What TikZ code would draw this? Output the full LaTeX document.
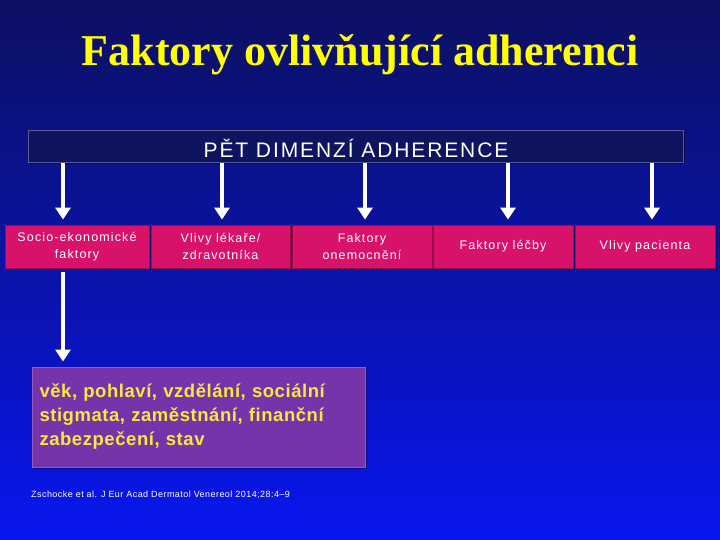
\documentclass[tikz,border=0pt]{standalone}
\usepackage{fontspec}
\setmainfont{Liberation Sans}
\newfontfamily\titlefont{Liberation Serif}
\newfontfamily\spacedfont[LetterSpace=9]{Liberation Sans}
\newfontfamily\detailfont[LetterSpace=3]{Liberation Sans}
\newfontfamily\citefont[LetterSpace=5]{Liberation Sans}
\usetikzlibrary{arrows.meta,shadows}
\definecolor{bgtop}{RGB}{12,16,96}
\definecolor{bgbot}{RGB}{8,22,240}
\definecolor{barcol}{RGB}{14,20,96}
\definecolor{pinkbox}{RGB}{216,18,106}
\definecolor{purplebox}{RGB}{118,52,170}
\definecolor{titleyellow}{RGB}{255,255,0}
\definecolor{txtyellow}{RGB}{255,230,60}
\tikzset{
  factor/.style={draw=pinkbox!70!black, line width=0.8pt, fill=pinkbox, text=white,
    minimum height=43pt, inner sep=1pt, align=center, font=\spacedfont\fontsize{12.5pt}{17pt}\selectfont,
    drop shadow={shadow xshift=1.5pt, shadow yshift=-1.5pt, fill=black, opacity=0.35}},
  wharrow/.style={draw=white, line width=3.5pt, shorten >=5pt, -{Triangle[length=12pt,width=15pt]}},
}
\begin{document}
\begin{tikzpicture}[x=1pt,y=-1pt]
\shade[top color=bgtop, bottom color=bgbot] (0,0) rectangle (720,540);
\useasboundingbox (0,0) rectangle (720,540);
\node[text=titleyellow, font=\titlefont\bfseries\fontsize{44pt}{48pt}\selectfont] (title) at (360,55) {Faktory ovlivňující adherenci};
\node[fill=barcol, draw=barcol!70!white, line width=1pt, minimum width=655pt, minimum height=32pt, inner sep=0pt,
  drop shadow={shadow xshift=1.5pt, shadow yshift=-1.5pt, fill=black, opacity=0.4}] (bar) at (355.5,147) {};
\node[text=white, font=\spacedfont\fontsize{21pt}{24pt}\selectfont] (bartext) at (356,148) {PĚT DIMENZÍ ADHERENCE};
\node[factor, minimum width=144pt] (f1) at (77,246.5) {Socio-ekonomické\\faktory};
\node[factor, minimum width=139pt] (f2) at (220.5,246.5) {Vlivy lékaře/\\zdravotníka};
\node[factor, minimum width=140pt] (f3) at (362,246.5) {Faktory\\onemocnění};
\node[factor, minimum width=140pt] (f4) at (503,246.5) {Faktory léčby};
\node[factor, minimum width=140pt] (f5) at (645,246.5) {Vlivy pacienta};
\coordinate (a1) at (63,163); \coordinate (a2) at (222,163); \coordinate (a3) at (365,163);
\coordinate (a4) at (508,163); \coordinate (a5) at (652,163);
\draw[wharrow] (a1) -- (a1 |- f1.north);
\draw[wharrow] (a2) -- (a2 |- f2.north);
\draw[wharrow] (a3) -- (a3 |- f3.north);
\draw[wharrow] (a4) -- (a4 |- f4.north);
\draw[wharrow] (a5) -- (a5 |- f5.north);
\node[fill=purplebox, draw=purplebox!80!white, line width=1pt, minimum width=333pt, minimum height=100pt,
  text width=318pt, align=left, inner xsep=7pt, inner ysep=4pt, text=txtyellow,
  font=\detailfont\fontsize{18.5pt}{24pt}\selectfont\bfseries,
  drop shadow={shadow xshift=2pt, shadow yshift=-2pt, fill=black, opacity=0.35}] (detail) at (198.5,417)
  {věk, pohlaví, vzdělání, sociální\\stigmata, zaměstnání, finanční\\zabezpečení, stav};
\coordinate (d1) at (63,272);
\draw[wharrow] (d1) -- (d1 |- detail.north);
\node[anchor=west, text=white, font=\citefont\fontsize{9pt}{10pt}\selectfont, inner sep=0pt] (cite) at (31,495) {Zschocke et al. J Eur Acad Dermatol Venereol 2014;28:4–9};
\end{tikzpicture}
\end{document}
